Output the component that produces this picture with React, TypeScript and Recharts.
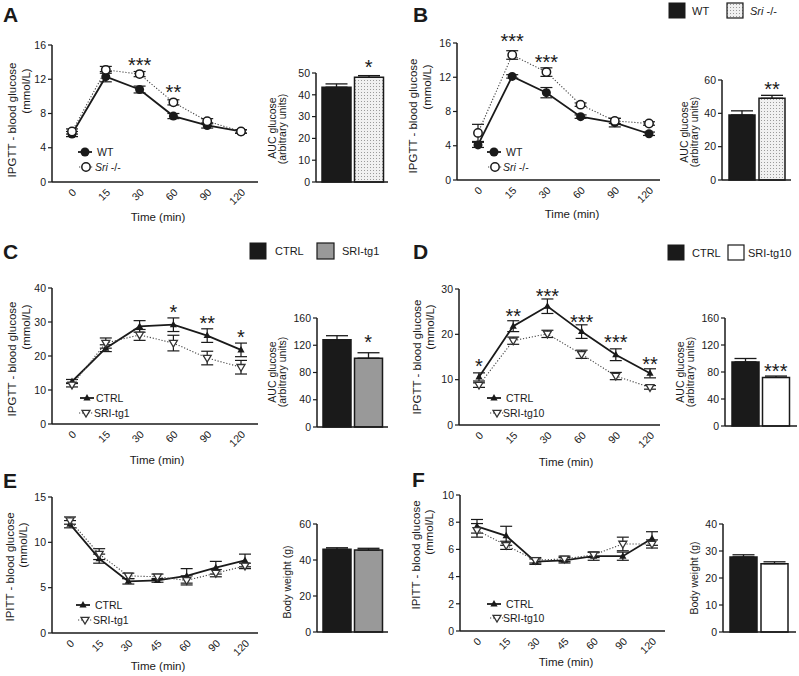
import React from 'react';
import { LineChart, Line, BarChart, Bar, Cell, XAxis, YAxis, ErrorBar, ReferenceDot } from 'recharts';

const FONT = '"Liberation Sans", Arial, Helvetica, sans-serif';
const INK = '#1a1a1a';

// time points (min)
const ttTimes = ['0', '15', '30', '60', '90', '120'];
const ittTimes = ['0', '15', '30', '45', '60', '90', '120'];

// A - IPGTT, WT vs Sri-/-
const aWt = [5.6, 12.3, 10.8, 7.7, 6.6, 5.9];
const aWtErr = [0.3, 0.6, 0.4, 0.3, 0.3, 0.2];
const aKo = [5.9, 13.1, 12.6, 9.3, 7.1, 5.9];
const aKoErr = [0.3, 0.4, 0.3, 0.3, 0.3, 0.2];
const aStars = [{ t: '30', y: 14.1, s: '***' }, { t: '60', y: 11.0, s: '**' }];
const aAuc = [43.5, 48.0];
const aAucErr = [1.5, 0.8];
const aAucStars = [{ t: 'Sri', y: 54.6, s: '*' }];

// B - IPGTT, WT vs Sri-/- (second cohort)
const bWt = [4.1, 12.1, 10.2, 7.4, 6.7, 5.4];
const bWtErr = [0.3, 0.2, 0.6, 0.2, 0.5, 0.2];
const bKo = [5.5, 14.6, 12.6, 8.8, 6.9, 6.6];
const bKoErr = [1.0, 0.5, 0.5, 0.2, 0.3, 0.2];
const bStars = [{ t: '15', y: 16.7, s: '***' }, { t: '30', y: 14.3, s: '***' }];
const bAuc = [39, 49];
const bAucErr = [2.5, 1.8];
const bAucStars = [{ t: 'Sri', y: 57, s: '**' }];

// C - IPGTT, CTRL vs SRI-tg1
const cCtrl = [12.5, 22.3, 28.7, 29.2, 26.0, 21.8];
const cCtrlErr = [0.6, 1.0, 1.7, 2.0, 2.0, 2.0];
const cTg = [11.5, 23.8, 26.2, 23.8, 19.4, 16.7];
const cTgErr = [0.6, 1.5, 1.6, 2.3, 2.0, 2.0];
const cStars = [{ t: '60', y: 34.1, s: '*' }, { t: '90', y: 30.9, s: '**' }, { t: '120', y: 26.8, s: '*' }];
const cAuc = [128, 101];
const cAucErr = [6, 8];
const cAucStars = [{ t: 'Tg', y: 130.7, s: '*' }];

// D - IPGTT, CTRL vs SRI-tg10
const dCtrl = [10.6, 21.8, 26.2, 20.6, 15.5, 11.4];
const dCtrlErr = [0.9, 1.2, 1.6, 1.5, 1.3, 1.0];
const dTg = [8.8, 18.6, 20.1, 15.6, 10.8, 8.3];
const dTgErr = [0.5, 0.8, 0.8, 0.9, 0.8, 0.4];
const dStars = [
  { t: '0', y: 13.9, s: '*' }, { t: '15', y: 24.9, s: '**' }, { t: '30', y: 29.3, s: '***' },
  { t: '60', y: 23.6, s: '***' }, { t: '90', y: 19.2, s: '***' }, { t: '120', y: 14.3, s: '**' },
];
const dAuc = [95, 72];
const dAucErr = [5, 2];
const dAucStars = [{ t: 'Tg', y: 87, s: '***' }];

// E - IPITT, CTRL vs SRI-tg1
const eCtrl = [12.0, 8.2, 5.7, 5.8, 6.3, 7.2, 8.0];
const eCtrlErr = [0.4, 0.5, 0.3, 0.2, 0.8, 0.7, 0.7];
const eTg = [12.4, 8.7, 6.3, 6.2, 5.8, 6.6, 7.4];
const eTgErr = [0.4, 0.6, 0.3, 0.3, 0.5, 0.4, 0.3];
const eBw = [46, 45.5];
const eBwErr = [0.8, 1.0];

// F - IPITT, CTRL vs SRI-tg10
const fCtrl = [7.7, 7.0, 5.1, 5.2, 5.5, 5.5, 6.8];
const fCtrlErr = [0.5, 0.7, 0.2, 0.2, 0.3, 0.3, 0.5];
const fTg = [7.4, 6.3, 5.2, 5.3, 5.6, 6.4, 6.4];
const fTgErr = [0.5, 0.3, 0.2, 0.2, 0.2, 0.5, 0.3];
const fBw = [27.8, 25.3];
const fBwErr = [0.8, 0.7];

const rows = (times: string[], a: number[], aE: number[], b: number[], bE: number[]) =>
  times.map((t, i) => ({ t, a: a[i], aE: aE[i], b: b[i], bE: bE[i] }));

const barRows = (names: string[], v: number[], e: number[]) =>
  names.map((t, i) => ({ t, v: v[i], e: [0, e[i]] }));

const Mark = (p: any) => {
  const { cx, cy, kind } = p;
  if (cx == null || cy == null) return <g />;
  if (kind === 'circleFill') return <circle cx={cx} cy={cy} r={4.5} fill={INK} />;
  if (kind === 'circleOpen') return <circle cx={cx} cy={cy} r={4.2} fill="#fff" stroke={INK} strokeWidth={1.5} />;
  if (kind === 'triUp')
    return <polygon points={`${cx},${cy - 4} ${cx + 3.6},${cy + 2.5} ${cx - 3.6},${cy + 2.5}`} fill={INK} />;
  return (
    <polygon
      points={`${cx - 4},${cy - 2.7} ${cx + 4},${cy - 2.7} ${cx},${cy + 4}`}
      fill="#fff"
      stroke="#333"
      strokeWidth={1.3}
    />
  );
};

const Star = (p: any) => (
  <text x={p.cx} y={p.cy + 11} textAnchor="middle" fontSize={20} fontFamily={FONT} fill={INK}>
    {p.s}
  </text>
);

// time label set along a 45 degree path ending just under the tick
const TimeLabel = (p: any) => {
  const ax = p.cx + 5;
  const ay = p.cy + 11;
  const pid = `tp-${p.pid}-${p.t}`;
  return (
    <g>
      <defs>
        <path id={pid} d={`M ${ax - 40} ${ay + 40} L ${ax} ${ay}`} />
      </defs>
      <text fontSize={10.5} fontFamily={FONT} fill={INK}>
        <textPath href={`#${pid}`} startOffset="100%" textAnchor="end">
          {p.t}
        </textPath>
      </text>
    </g>
  );
};

type Box = { x1: number; y1: number; x2: number; y2: number };

const axisLine = { stroke: INK, strokeWidth: 1.5 };
const tickLine = { stroke: INK, strokeWidth: 1.2 };
const yTick = { fill: INK, fontSize: 10.5, fontFamily: FONT };

function LinePanel(props: {
  id: string; box: Box; pad: number[]; data: any[]; max: number; ticks: number[];
  marks: string[]; stars?: { t: string; y: number; s: string }[];
}) {
  const { id, box, pad, data, max, ticks, marks, stars = [] } = props;
  const left = box.x1 - 40;
  const top = box.y1 - 30;
  const W = box.x2 - left + 5;
  const H = box.y2 - top + 40;
  return (
    <div style={{ position: 'absolute', left, top, width: W, height: H }}>
      <LineChart width={W} height={H} data={data} margin={{ top: 30, right: 5, bottom: 0, left: 0 }}>
        <XAxis dataKey="t" scale="point" padding={{ left: pad[0], right: pad[1] }} interval={0} height={40}
          tickSize={4} tickLine={tickLine} axisLine={axisLine} tick={false} />
        <YAxis type="number" domain={[0, max]} ticks={ticks} interval={0} width={40} tickSize={4}
          tickLine={tickLine} axisLine={axisLine} tick={yTick} />
        <Line dataKey="a" type="linear" stroke={INK} strokeWidth={1.8} dot={<Mark kind={marks[0]} />}
          activeDot={false} isAnimationActive={false}>
          <ErrorBar dataKey="aE" width={6} stroke={INK} strokeWidth={1.2} isAnimationActive={false} />
        </Line>
        <Line dataKey="b" type="linear" stroke="#444" strokeWidth={1.1} strokeDasharray="1.2 1.8"
          dot={<Mark kind={marks[1]} />} activeDot={false} isAnimationActive={false}>
          <ErrorBar dataKey="bE" width={6} stroke={INK} strokeWidth={1.2} isAnimationActive={false} />
        </Line>
        {data.map((r) => (
          <ReferenceDot key={`lbl-${r.t}`} x={r.t} y={0} r={1} ifOverflow="visible"
            shape={(p: any) => <TimeLabel cx={p.cx} cy={p.cy} t={r.t} pid={id} />} />
        ))}
        {stars.map((s) => (
          <ReferenceDot key={s.t} x={s.t} y={s.y} r={1} ifOverflow="visible"
            shape={(p: any) => <Star cx={p.cx} cy={p.cy} s={s.s} />} />
        ))}
      </LineChart>
    </div>
  );
}

function BarPanel(props: {
  id: string; box: Box; pad: number[]; data: any[]; max: number; ticks: number[];
  fills: string[]; stars?: { t: string; y: number; s: string }[];
}) {
  const { id, box, pad, data, max, ticks, fills, stars = [] } = props;
  const left = box.x1 - 40;
  const top = box.y1 - 30;
  const W = box.x2 - left + 2;
  const H = box.y2 - top + 10;
  return (
    <div style={{ position: 'absolute', left, top, width: W, height: H }}>
      <BarChart width={W} height={H} data={data} margin={{ top: 30, right: 2, bottom: 0, left: 0 }} barCategoryGap={2}>
        <defs>
          <pattern id={`dots-${id}`} width="3" height="3" patternUnits="userSpaceOnUse">
            <rect width="3" height="3" fill="#f0f0f0" />
            <rect x="1" y="1" width="1" height="1" fill="#9a9a9a" />
          </pattern>
        </defs>
        <XAxis dataKey="t" padding={{ left: pad[0], right: pad[1] }} tick={false} tickLine={false}
          axisLine={axisLine} height={10} />
        <YAxis type="number" domain={[0, max]} ticks={ticks} interval={0} width={40} tickSize={4}
          tickLine={tickLine} axisLine={axisLine} tick={yTick} />
        <Bar dataKey="v" stroke={INK} strokeWidth={1.5} isAnimationActive={false}>
          {data.map((r, i) => (
            <Cell key={r.t} fill={fills[i] === 'dots' ? `url(#dots-${id})` : fills[i]} />
          ))}
          <ErrorBar dataKey="e" width={11} stroke={INK} strokeWidth={1.3} isAnimationActive={false} />
        </Bar>
        {stars.map((s) => (
          <ReferenceDot key={s.t} x={s.t} y={s.y} r={1} ifOverflow="visible"
            shape={(p: any) => <Star cx={p.cx} cy={p.cy} s={s.s} />} />
        ))}
      </BarChart>
    </div>
  );
}

const VTitle = ({ x, y, text, size = 11.5 }: { x: number; y: number; text: string; size?: number }) => (
  <text transform={`translate(${x},${y}) rotate(-90)`} textAnchor="middle" dominantBaseline="central"
    fontSize={size} fontFamily={FONT} fill={INK}>
    {text}
  </text>
);

const Txt = ({ x, y, children, size = 11, anchor = 'start', bold = false }: any) => (
  <text x={x} y={y} textAnchor={anchor} fontSize={size} fontFamily={FONT} fill={INK} fontWeight={bold ? 'bold' : 'normal'}>
    {children}
  </text>
);

const LegendRow = ({ x, y, kind, tx, children }: any) => {
  const solid = kind === 'circleFill' || kind === 'triUp';
  return (
    <g>
      <line x1={x - 7} x2={x + 7} y1={y} y2={y} stroke={solid ? INK : '#444'} strokeWidth={solid ? 1.8 : 1.1}
        strokeDasharray={solid ? undefined : '1.2 1.8'} />
      <Mark cx={x} cy={y} kind={kind} />
      <Txt x={tx} y={y + 4} size={10.5}>{children}</Txt>
    </g>
  );
};

const SriLabel = () => (
  <>
    <tspan fontStyle="italic">Sri</tspan>
    <tspan> -/-</tspan>
  </>
);

export default function App() {
  return (
    <div style={{ position: 'absolute', left: 0, top: 0, width: 799, height: 676, background: '#fff', fontFamily: FONT }}>
      <LinePanel id="a" box={{ x1: 52, y1: 45, x2: 258, y2: 182 }} pad={[20, 17]} max={16} ticks={[0, 4, 8, 12, 16]}
        data={rows(ttTimes, aWt, aWtErr, aKo, aKoErr)} marks={['circleFill', 'circleOpen']} stars={aStars} />
      <BarPanel id="a" box={{ x1: 316, y1: 73, x2: 388, y2: 182 }} pad={[4, 3]} max={50} ticks={[0, 10, 20, 30, 40, 50]}
        data={barRows(['WT', 'Sri'], aAuc, aAucErr)} fills={[INK, 'dots']} stars={aAucStars} />

      <LinePanel id="b" box={{ x1: 457, y1: 43, x2: 660, y2: 180 }} pad={[21, 11]} max={16} ticks={[0, 4, 8, 12, 16]}
        data={rows(ttTimes, bWt, bWtErr, bKo, bKoErr)} marks={['circleFill', 'circleOpen']} stars={bStars} />
      <BarPanel id="b" box={{ x1: 722, y1: 80, x2: 791, y2: 180 }} pad={[5, 4]} max={60} ticks={[0, 20, 40, 60]}
        data={barRows(['WT', 'Sri'], bAuc, bAucErr)} fills={[INK, 'dots']} stars={bAucStars} />

      <LinePanel id="c" box={{ x1: 52, y1: 288, x2: 258, y2: 424 }} pad={[20, 17]} max={40} ticks={[0, 10, 20, 30, 40]}
        data={rows(ttTimes, cCtrl, cCtrlErr, cTg, cTgErr)} marks={['triUp', 'triDown']} stars={cStars} />
      <BarPanel id="c" box={{ x1: 317, y1: 318, x2: 388, y2: 427 }} pad={[4, 4]} max={160} ticks={[0, 40, 80, 120, 160]}
        data={barRows(['Ctrl', 'Tg'], cAuc, cAucErr)} fills={[INK, '#999']} stars={cAucStars} />

      <LinePanel id="d" box={{ x1: 459, y1: 289, x2: 660, y2: 425 }} pad={[20, 10]} max={30} ticks={[0, 10, 20, 30]}
        data={rows(ttTimes, dCtrl, dCtrlErr, dTg, dTgErr)} marks={['triUp', 'triDown']} stars={dStars} />
      <BarPanel id="d" box={{ x1: 725, y1: 318, x2: 797, y2: 426 }} pad={[5, 6]} max={160} ticks={[0, 40, 80, 120, 160]}
        data={barRows(['Ctrl', 'Tg'], dAuc, dAucErr)} fills={[INK, '#fff']} stars={dAucStars} />

      <LinePanel id="e" box={{ x1: 52, y1: 497, x2: 258, y2: 633 }} pad={[18, 13]} max={15} ticks={[0, 5, 10, 15]}
        data={rows(ittTimes, eCtrl, eCtrlErr, eTg, eTgErr)} marks={['triUp', 'triDown']} />
      <BarPanel id="e" box={{ x1: 317, y1: 524, x2: 388, y2: 632 }} pad={[4, 4]} max={60} ticks={[0, 20, 40, 60]}
        data={barRows(['Ctrl', 'Tg'], eBw, eBwErr)} fills={[INK, '#999']} />

      <LinePanel id="f" box={{ x1: 460, y1: 495, x2: 665, y2: 631 }} pad={[17, 13]} max={10} ticks={[0, 2, 4, 6, 8, 10]}
        data={rows(ittTimes, fCtrl, fCtrlErr, fTg, fTgErr)} marks={['triUp', 'triDown']} />
      <BarPanel id="f" box={{ x1: 723, y1: 524, x2: 796, y2: 632 }} pad={[5, 6]} max={40} ticks={[0, 10, 20, 30, 40]}
        data={barRows(['Ctrl', 'Tg'], fBw, fBwErr)} fills={[INK, '#fff']} />

      <svg width={799} height={676} style={{ position: 'absolute', left: 0, top: 0, pointerEvents: 'none' }}>
        <defs>
          <pattern id="dots-leg" width="3" height="3" patternUnits="userSpaceOnUse">
            <rect width="3" height="3" fill="#f0f0f0" />
            <rect x="1" y="1" width="1" height="1" fill="#9a9a9a" />
          </pattern>
        </defs>
        {/* panel letters */}
        <Txt x={3} y={22} size={21} bold>A</Txt>
        <Txt x={413} y={22} size={21} bold>B</Txt>
        <Txt x={3} y={259} size={21} bold>C</Txt>
        <Txt x={413} y={259} size={21} bold>D</Txt>
        <Txt x={3} y={488} size={21} bold>E</Txt>
        <Txt x={412} y={487} size={21} bold>F</Txt>

        {/* y titles */}
        <VTitle x={12} y={120} text="IPGTT - blood glucose" />
        <VTitle x={26} y={91} text="(mmol/L)" />
        <VTitle x={413} y={116} text="IPGTT - blood glucose" />
        <VTitle x={427} y={87} text="(mmol/L)" />
        <VTitle x={12} y={359} text="IPGTT - blood glucose" />
        <VTitle x={26} y={327} text="(mmol/L)" />
        <VTitle x={417} y={357} text="IPGTT - blood glucose" />
        <VTitle x={430} y={327} text="(mmol/L)" />
        <VTitle x={10} y={567} text="IPITT - blood glucose" />
        <VTitle x={23} y={545} text="(mmol/L)" />
        <VTitle x={416} y={555} text="IPITT - blood glucose" />
        <VTitle x={429} y={532} text="(mmol/L)" />

        <VTitle x={272} y={128} text="AUC glucose" size={10.5} />
        <VTitle x={282} y={129} text="(arbitrary units)" size={10.5} />
        <VTitle x={684} y={132} text="AUC glucose" size={10.5} />
        <VTitle x={694} y={132} text="(arbitrary units)" size={10.5} />
        <VTitle x={272} y={372} text="AUC glucose" size={10.5} />
        <VTitle x={282} y={372} text="(arbitrary units)" size={10.5} />
        <VTitle x={680} y={372} text="AUC glucose" size={10.5} />
        <VTitle x={690} y={372} text="(arbitrary units)" size={10.5} />
        <VTitle x={287} y={582} text="Body weight (g)" size={10.5} />
        <VTitle x={694} y={578} text="Body weight (g)" size={10.5} />

        {/* x titles */}
        <Txt x={158} y={221} anchor="middle" size={11.5}>Time (min)</Txt>
        <Txt x={572} y={218} anchor="middle" size={11.5}>Time (min)</Txt>
        <Txt x={157} y={464} anchor="middle" size={11.5}>Time (min)</Txt>
        <Txt x={566} y={466} anchor="middle" size={11.5}>Time (min)</Txt>
        <Txt x={158} y={670} anchor="middle" size={11.5}>Time (min)</Txt>
        <Txt x={566} y={666} anchor="middle" size={11.5}>Time (min)</Txt>

        {/* group legends */}
        <rect x={669} y={3} width={16} height={15} fill={INK} stroke={INK} />
        <Txt x={692} y={15}>WT</Txt>
        <rect x={727} y={3} width={16} height={15} fill="url(#dots-leg)" stroke={INK} strokeWidth={1.2} />
        <Txt x={750} y={15}><SriLabel /></Txt>

        <rect x={250} y={243} width={16} height={16} fill={INK} stroke={INK} />
        <Txt x={275} y={255}>CTRL</Txt>
        <rect x={317} y={243} width={17} height={16} fill="#999" stroke={INK} strokeWidth={1.2} />
        <Txt x={342} y={255}>SRI-tg1</Txt>

        <rect x={668} y={245} width={16} height={15} fill={INK} stroke={INK} />
        <Txt x={692} y={257}>CTRL</Txt>
        <rect x={728} y={245} width={16} height={15} fill="#fff" stroke={INK} strokeWidth={1.2} />
        <Txt x={748} y={257}>SRI-tg10</Txt>

        {/* series legends */}
        <LegendRow x={85} y={152} kind="circleFill" tx={97}>WT</LegendRow>
        <LegendRow x={86} y={167} kind="circleOpen" tx={95}><SriLabel /></LegendRow>
        <LegendRow x={494} y={152} kind="circleFill" tx={506}>WT</LegendRow>
        <LegendRow x={495} y={167} kind="circleOpen" tx={503}><SriLabel /></LegendRow>
        <LegendRow x={87} y={398} kind="triUp" tx={96}>CTRL</LegendRow>
        <LegendRow x={86} y={413} kind="triDown" tx={94}>SRI-tg1</LegendRow>
        <LegendRow x={494} y={398} kind="triUp" tx={506}>CTRL</LegendRow>
        <LegendRow x={497} y={413} kind="triDown" tx={503}>SRI-tg10</LegendRow>
        <LegendRow x={83} y={605} kind="triUp" tx={95}>CTRL</LegendRow>
        <LegendRow x={85} y={620} kind="triDown" tx={93}>SRI-tg1</LegendRow>
        <LegendRow x={494} y={604} kind="triUp" tx={506}>CTRL</LegendRow>
        <LegendRow x={497} y={618} kind="triDown" tx={503}>SRI-tg10</LegendRow>
      </svg>
    </div>
  );
}
